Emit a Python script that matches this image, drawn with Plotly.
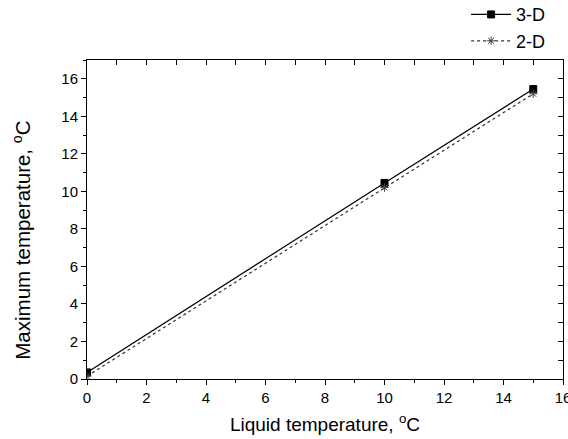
import plotly.graph_objects as go

x_vals = [0, 10, 15]
y_3d = [0.35, 10.45, 15.45]
y_2d = [0.15, 10.2, 15.2]
series_names = ["3-D", "2-D"]

FONT = "Arial, Liberation Sans"

fig = go.Figure()
fig.add_trace(go.Scatter(x=x_vals, y=y_3d, name=series_names[0], mode="lines+markers",
                         line=dict(color="black", width=1.2),
                         marker=dict(symbol="square", size=7, color="black",
                                     line=dict(color="black", width=1))))
fig.add_trace(go.Scatter(x=x_vals, y=y_2d, name=series_names[1], mode="lines+markers",
                         line=dict(color="#333333", width=1.2, dash="dot"),
                         marker=dict(symbol="asterisk-open", size=7, color="#444",
                                     line=dict(color="#444", width=1))))

axis_common = dict(showline=True, linecolor="black", linewidth=1, showgrid=False,
                   zeroline=False, ticks="outside", ticklen=5, tickwidth=1, tickcolor="black",
                   minor=dict(ticks="outside", ticklen=3, tickwidth=1, tickcolor="black", dtick=1),
                   ticklabeloverflow="allow", automargin=False,
                   tickfont=dict(family=FONT, size=15, color="black"))

fig.update_xaxes(range=[0, 16], dtick=2, **axis_common,
                 title=dict(text="Liquid temperature, <sup>o</sup>C",
                            font=dict(family=FONT, size=19, color="black"),
                            standoff=12))
fig.update_yaxes(range=[0, 17], dtick=2, **axis_common)

fig.add_annotation(text="Maximum temperature, <sup>o</sup>C", textangle=-90,
                   xref="paper", yref="paper", x=-0.137, y=0.436,
                   xanchor="center", yanchor="middle", showarrow=False,
                   font=dict(family=FONT, size=20.5, color="black"))

fig.update_layout(
    xaxis2=dict(overlaying="x", side="top", matches="x", range=[0, 16], dtick=1,
                showline=True, linecolor="black", ticks="inside", ticklen=5,
                tickcolor="black", showticklabels=False, showgrid=False, zeroline=False),
    yaxis2=dict(overlaying="y", side="right", matches="y", range=[0, 17], dtick=1,
                showline=True, linecolor="black", ticks="inside", ticklen=5,
                tickcolor="black", showticklabels=False, showgrid=False, zeroline=False),
)
fig.add_trace(go.Scatter(x=[None], y=[None], xaxis="x2", yaxis="y2", showlegend=False,
                         hoverinfo="skip"))

fig.update_layout(
    width=568, height=439,
    margin=dict(l=87, r=5, t=60, b=60, autoexpand=False),
    plot_bgcolor="white", paper_bgcolor="white",
    legend=dict(x=0.975, xanchor="right", y=1.2, yanchor="top",
                font=dict(family=FONT, size=18, color="black"),
                bgcolor="rgba(0,0,0,0)", itemwidth=40, tracegroupgap=0),
)

fig.write_html("out.html")
